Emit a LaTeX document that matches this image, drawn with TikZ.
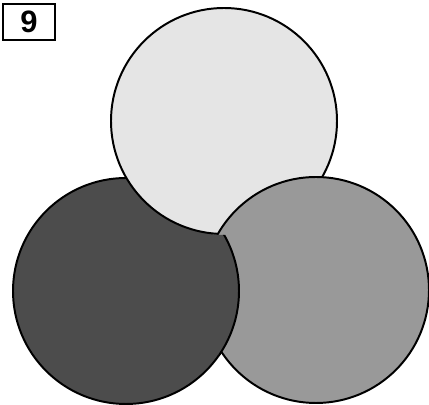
\documentclass[tikz,border=0pt]{standalone}
\usepackage{fontspec}
\setmainfont{Liberation Sans}
\definecolor{paleGray}{gray}{0.9}
\definecolor{midGray}{gray}{0.6}
\definecolor{deepGray}{gray}{0.3}
\tikzset{
  disc/.style={draw=black,line width=1.4pt},
  topdisc/.style={disc,fill=paleGray},
  leftdisc/.style={disc,fill=deepGray},
  rightdisc/.style={disc,fill=midGray},
  numbox/.style={draw,line width=1.1pt,minimum width=1.3cm,minimum height=0.9cm,inner sep=0pt,font=\fontsize{22}{26}\selectfont\bfseries}
}
\begin{document}
\begin{tikzpicture}[x=0.025cm,y=-0.025cm]
        \useasboundingbox (0,0) rectangle (429,405);
        \path (29,22) node [numbox] (num) {9};
        % the three discs overlap in a cycle
        \draw [leftdisc] (126,291) circle (113);
        \draw [topdisc] (224,121) circle (113);
        \draw [rightdisc] (316,290) circle (113);
        \begin{scope}
            \clip (316,290) circle (117);
            \begin{scope}[even odd rule]
                \clip (0,0) rectangle (429,405) (224,121) circle (114);
                \draw [leftdisc] (126,291) circle (113);
            \end{scope}
        \end{scope}
    \end{tikzpicture}
\end{document}
